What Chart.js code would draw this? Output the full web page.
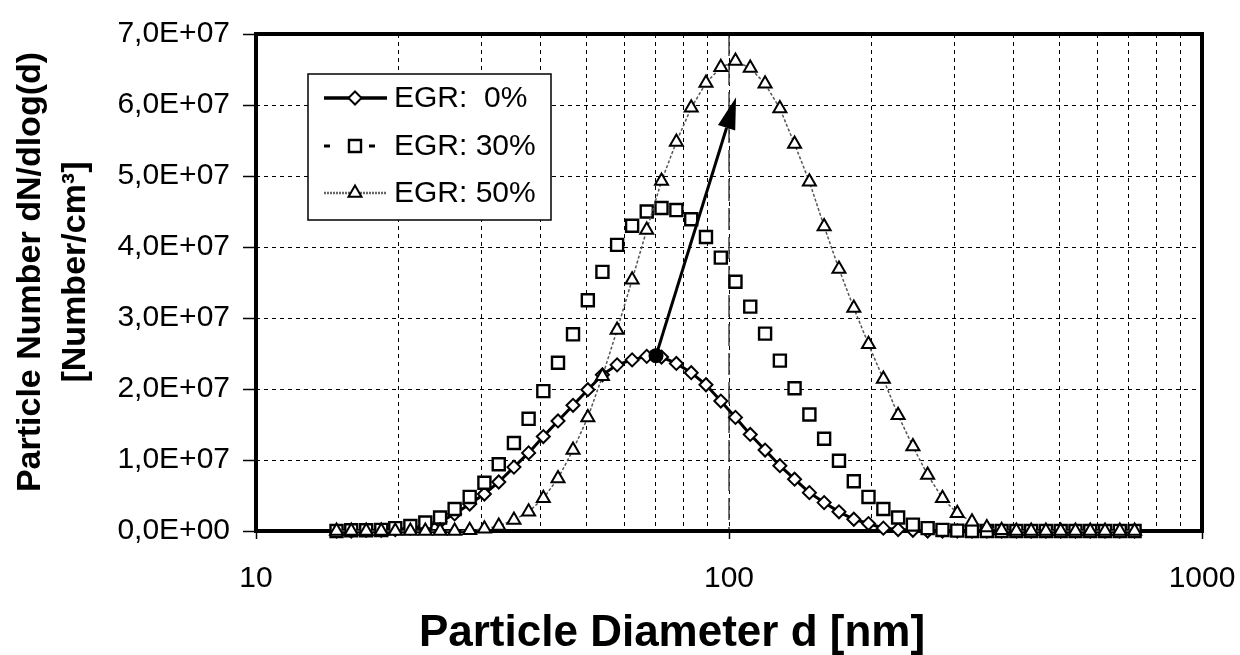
<!DOCTYPE html>
<html><head><meta charset="utf-8">
<script src="https://cdn.jsdelivr.net/npm/chart.js@4.4.1/dist/chart.umd.min.js"></script>
<style>html,body{margin:0;padding:0;background:#fff}#wrap{width:1240px;height:655px;position:relative}canvas{display:block}</style>
</head><body><div id="wrap"><canvas id="c" width="1240" height="655" style="width:1240px;height:655px"></canvas></div>
<script>
// Particle diameter [nm] (shared x values of all series)
const diameters = [14.8, 15.9, 17.1, 18.4, 19.7, 21.2, 22.8, 24.5, 26.3, 28.3,
  30.4, 32.6, 35.1, 37.7, 40.5, 43.5, 46.8, 50.3, 54.0, 58.0,
  62.4, 67.0, 72.0, 77.4, 83.2, 89.4, 96.1, 103.2, 110.9, 119.2,
  128.1, 137.6, 147.9, 158.9, 170.8, 183.6, 197.2, 212.0, 227.8, 244.8,
  263.0, 282.7, 303.8, 326.4, 350.8, 377.0, 405.1, 435.3, 467.7, 502.6,
  540.1, 580.4, 623.7, 670.2, 720.2];
// dN/dlog(d) [Number/cm3]
const egr0 = [0, 0, 0.01e7, 0.01e7, 0.02e7, 0.04e7, 0.07e7, 0.13e7, 0.24e7, 0.38e7,
  0.52e7, 0.69e7, 0.90e7, 1.10e7, 1.33e7, 1.55e7, 1.77e7, 1.99e7, 2.20e7, 2.34e7,
  2.41e7, 2.46e7, 2.45e7, 2.36e7, 2.23e7, 2.06e7, 1.83e7, 1.60e7, 1.36e7, 1.14e7,
  0.92e7, 0.73e7, 0.54e7, 0.40e7, 0.27e7, 0.165e7, 0.105e7, 0.04e7, 0.02e7, 0.01e7,
  0, 0, 0, 0, 0, 0, 0, 0, 0, 0,
  0, 0, 0, 0, 0];
const egr30 = [0, 0.01e7, 0.01e7, 0.015e7, 0.04e7, 0.07e7, 0.12e7, 0.19e7, 0.31e7, 0.48e7,
  0.68e7, 0.94e7, 1.24e7, 1.58e7, 1.97e7, 2.37e7, 2.77e7, 3.25e7, 3.65e7, 4.03e7,
  4.30e7, 4.50e7, 4.55e7, 4.52e7, 4.39e7, 4.14e7, 3.85e7, 3.51e7, 3.16e7, 2.78e7,
  2.40e7, 2.01e7, 1.64e7, 1.30e7, 0.99e7, 0.70e7, 0.48e7, 0.31e7, 0.19e7, 0.09e7,
  0.04e7, 0.015e7, 0.005e7, 0, 0, 0, 0, 0, 0, 0,
  0, 0, 0, 0, 0];
const egr50 = [0, 0, 0, 0, 0, 0, 0, 0, 0, 0.01e7,
  0.03e7, 0.07e7, 0.155e7, 0.27e7, 0.46e7, 0.74e7, 1.14e7, 1.60e7, 2.18e7, 2.83e7,
  3.54e7, 4.24e7, 4.93e7, 5.48e7, 5.96e7, 6.31e7, 6.53e7, 6.62e7, 6.52e7, 6.30e7,
  5.95e7, 5.45e7, 4.92e7, 4.29e7, 3.69e7, 3.14e7, 2.63e7, 2.14e7, 1.63e7, 1.19e7,
  0.79e7, 0.46e7, 0.25e7, 0.13e7, 0.05e7, 0.01e7, 0, 0, 0, 0,
  0, 0, 0, 0, 0];
const seriesLabels = ['EGR:  0%', 'EGR: 30%', 'EGR: 50%'];
const xTickValues = [10, 20, 30, 40, 50, 60, 70, 80, 90, 100, 200, 300, 400, 500, 600, 700, 800, 900, 1000];
const xTickLabels = {10: '10', 100: '100', 1000: '1000'};
const yTickValues = [0, 1e7, 2e7, 3e7, 4e7, 5e7, 6e7, 7e7];
const yTickLabels = ['0,0E+00', '1,0E+07', '2,0E+07', '3,0E+07', '4,0E+07', '5,0E+07', '6,0E+07', '7,0E+07'];
const xTitle = 'Particle Diameter d [nm]';
const yTitle = ['Particle Number dN/dlog(d)', '[Number/cm\u00B3]'];
const arrowFrom = [70.1, 2.47e7];
const arrowTo = [103.5, 6.11e7];
const refLineX = 100;

const FONT = "'Liberation Sans', Arial, Helvetica, sans-serif";
const pts = arr => diameters.map((d, i) => ({x: d, y: arr[i]}));

const framePlugin = {
  id: 'frame',
  beforeDatasetsDraw(chart) {
    const {ctx, chartArea: a, scales: {x}} = chart;
    ctx.save();
    const px = x.getPixelForValue(refLineX);
    ctx.strokeStyle = '#444'; ctx.lineWidth = 1.5; ctx.setLineDash([22, 7]);
    ctx.beginPath(); ctx.moveTo(px, a.top); ctx.lineTo(px, a.bottom); ctx.stroke();
    ctx.setLineDash([]);
    ctx.strokeStyle = '#000'; ctx.lineWidth = 4;
    ctx.strokeRect(a.left, a.top, a.right - a.left, a.bottom - a.top);
    ctx.restore();
  }
};

const arrowPlugin = {
  id: 'arrow',
  afterDatasetsDraw(chart) {
    const {ctx, scales: {x, y}} = chart;
    const x0 = x.getPixelForValue(arrowFrom[0]), y0 = y.getPixelForValue(arrowFrom[1]);
    const x1 = x.getPixelForValue(arrowTo[0]), y1 = y.getPixelForValue(arrowTo[1]);
    const ang = Math.atan2(y1 - y0, x1 - x0);
    const hl = 32, hw = 9;
    const bx = x1 - hl * Math.cos(ang), by = y1 - hl * Math.sin(ang);
    ctx.save();
    ctx.strokeStyle = '#000'; ctx.fillStyle = '#000'; ctx.lineWidth = 3;
    ctx.beginPath(); ctx.moveTo(x0, y0); ctx.lineTo(bx, by); ctx.stroke();
    ctx.beginPath(); ctx.moveTo(x1, y1);
    ctx.lineTo(bx + hw * Math.sin(ang), by - hw * Math.cos(ang));
    ctx.lineTo(bx - hw * Math.sin(ang), by + hw * Math.cos(ang));
    ctx.closePath(); ctx.fill();
    ctx.beginPath(); ctx.arc(x0, y0, 7.5, 0, Math.PI * 2); ctx.fill();
    ctx.restore();
  }
};

const legendPlugin = {
  id: 'boxLegend',
  afterDatasetsDraw(chart) {
    const {ctx} = chart;
    const box = {l: 308, t: 74, r: 551, b: 220};
    const rows = [98, 146, 193];
    ctx.save();
    ctx.fillStyle = '#fff'; ctx.fillRect(box.l, box.t, box.r - box.l, box.b - box.t);
    ctx.strokeStyle = '#000'; ctx.lineWidth = 1.5;
    ctx.strokeRect(box.l, box.t, box.r - box.l, box.b - box.t);
    chart.data.datasets.forEach((ds, i) => {
      const yy = rows[i];
      ctx.save();
      ctx.strokeStyle = ds.legendLineColor; ctx.lineWidth = ds.legendLineWidth;
      ctx.setLineDash(ds.legendDash);
      ctx.beginPath(); ctx.moveTo(324, yy); ctx.lineTo(387, yy); ctx.stroke();
      ctx.setLineDash([]);
      ctx.fillStyle = '#fff'; ctx.strokeStyle = '#000'; ctx.lineWidth = ds.pointBorderWidth;
      Chart.helpers.drawPoint(ctx, {pointStyle: ds.pointStyle, radius: ds.pointRadius, borderWidth: ds.pointBorderWidth, rotation: 0}, 355, yy);
      ctx.restore();
      ctx.fillStyle = '#000'; ctx.font = '30px ' + FONT; ctx.textBaseline = 'middle'; ctx.textAlign = 'left';
      ctx.fillText(ds.label, 394, yy + 1);
    });
    ctx.restore();
  }
};

const titlePlugin = {
  id: 'axisTitles',
  afterDraw(chart) {
    const {ctx} = chart;
    ctx.save();
    ctx.fillStyle = '#000'; ctx.textAlign = 'center'; ctx.textBaseline = 'middle';
    ctx.font = 'bold 44px ' + FONT;
    ctx.fillText(xTitle, 672, 634);
    ctx.font = 'bold 34px ' + FONT;
    ctx.translate(31, 272); ctx.rotate(-Math.PI / 2);
    ctx.fillText(yTitle[0], 0, 0);
    ctx.fillText(yTitle[1], 0, 45);
    ctx.restore();
  }
};

new Chart(document.getElementById('c'), {
  type: 'line',
  data: {
    datasets: [
      {label: seriesLabels[0], data: pts(egr0), borderColor: '#000', borderWidth: 3, showLine: true,
       pointStyle: 'rectRot', pointRadius: 6.5, pointBorderWidth: 2, pointBackgroundColor: '#fff', pointBorderColor: '#000',
       legendLineColor: '#000', legendLineWidth: 3.5, legendDash: [], clip: false, order: 3},
      {label: seriesLabels[1], data: pts(egr30), borderColor: '#000', borderWidth: 2, showLine: false,
       pointStyle: 'rect', pointRadius: 8.5, pointBorderWidth: 2.4, pointBackgroundColor: '#fff', pointBorderColor: '#000',
       legendLineColor: '#000', legendLineWidth: 3, legendDash: [6, 39], clip: false, order: 2},
      {label: seriesLabels[2], data: pts(egr50), borderColor: '#555', borderWidth: 1.5, borderDash: [3, 2], showLine: true,
       pointStyle: 'triangle', pointRadius: 7.5, pointBorderWidth: 2, pointBackgroundColor: '#fff', pointBorderColor: '#000',
       legendLineColor: '#666', legendLineWidth: 2.5, legendDash: [2, 1], clip: false, order: 1}
    ]
  },
  options: {
    responsive: false, maintainAspectRatio: false, devicePixelRatio: 1, animation: false, events: [],
    layout: {padding: {top: 34, right: 38, left: 0, bottom: 0}},
    plugins: {legend: {display: false}, tooltip: {enabled: false}},
    elements: {line: {tension: 0}},
    scales: {
      x: {
        type: 'logarithmic', min: 10, max: 1000,
        afterBuildTicks: s => { s.ticks = xTickValues.map(v => ({value: v, major: !!xTickLabels[v]})); },
        afterFit: s => { s.height = 124; s.paddingLeft = 0; s.paddingRight = 0; },
        ticks: {autoSkip: false, maxRotation: 0, minRotation: 0, padding: 22, color: '#000', font: {family: FONT, size: 30},
                callback: v => xTickLabels[v] || ''},
        grid: {color: '#000', lineWidth: 1, drawTicks: true, tickLength: 8, tickWidth: 1.5,
               tickColor: c => (c.tick && xTickLabels[c.tick.value]) ? '#000' : 'rgba(0,0,0,0)', tickBorderDash: []},
        border: {display: false, dash: [4, 4]}
      },
      y: {
        type: 'linear', min: 0, max: 7e7,
        afterBuildTicks: s => { s.ticks = yTickValues.map(v => ({value: v})); },
        afterFit: s => { s.width = 256; s.paddingTop = 0; s.paddingBottom = 0; },
        ticks: {padding: 13, color: '#000', font: {family: FONT, size: 30},
                callback: (v, i) => yTickLabels[i]},
        grid: {color: '#000', lineWidth: 1, drawTicks: true, tickLength: 13, tickWidth: 1.5, tickColor: '#000', tickBorderDash: []},
        border: {display: false, dash: [4, 4]}
      }
    }
  },
  plugins: [framePlugin, arrowPlugin, legendPlugin, titlePlugin]
});
</script></body></html>
